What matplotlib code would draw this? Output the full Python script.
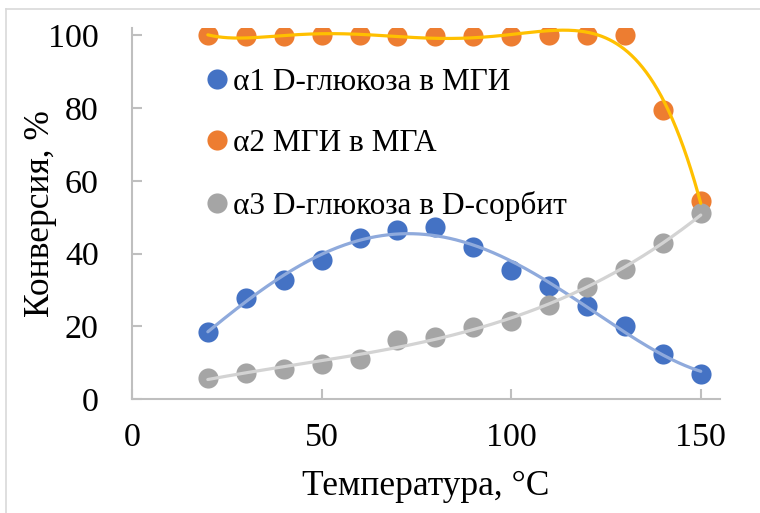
import numpy as np
import matplotlib
matplotlib.use("Agg")
import matplotlib.pyplot as plt
from matplotlib.lines import Line2D

# Temperature, °C
temperature = [20, 30, 40, 50, 60, 70, 80, 90, 100, 110, 120, 130, 140, 150]

# Conversion, %
alpha1 = [18.5, 27.9, 32.7, 38.3, 44.3, 46.6, 47.4, 41.8, 35.5, 31.1, 25.5, 20.1, 12.4, 7.0]
alpha2 = [100.0, 99.8, 99.9, 100.1, 100.0, 99.9, 99.8, 99.9, 99.9, 100.1, 100.0, 100.0, 79.6, 54.5]
alpha3 = [5.9, 7.3, 8.4, 9.7, 10.9, 16.2, 17.2, 19.9, 21.6, 25.9, 30.8, 35.7, 42.9, 51.1]

labels = ["\u03b11 D-глюкоза в МГИ", "\u03b12 МГИ в МГА", "\u03b13 D-глюкоза в D-сорбит"]
marker_colors = ["#4472C4", "#ED7D31", "#A5A5A5"]
trend_colors = ["#8FAADC", "#FFC000", "#D3D3D3"]
trend_orders = [4, 6, 3]

plt.rcParams["font.family"] = ["Liberation Serif", "DejaVu Serif"]

fig = plt.figure(figsize=(7.6, 5.13), dpi=100)
ax = fig.add_axes([0.1737, 0.222, 0.947 - 0.1737, 0.945 - 0.222])

x = np.array(temperature, dtype=float)
xs = np.linspace(x.min(), x.max(), 400)
series = [alpha1, alpha2, alpha3]

# markers
for ys, mc in zip(series, marker_colors):
    ax.plot(x, ys, "o", color=mc, markersize=14.5, markeredgewidth=0, zorder=2)

# polynomial trendlines fitted to each series
for ys, tc, order in zip(series, trend_colors, trend_orders):
    p = np.polynomial.Polynomial.fit(x, np.array(ys, dtype=float), order)
    ax.plot(xs, p(xs), "-", color=tc, linewidth=2.3, zorder=3, solid_capstyle="round")

ax.set_xlim(0, 155)
ax.set_ylim(0, 102)
ax.set_xticks([0, 50, 100, 150])
ax.set_yticks([0, 20, 40, 60, 80, 100])

for side in ("top", "right"):
    ax.spines[side].set_visible(False)
for side in ("left", "bottom"):
    ax.spines[side].set_color("#BFBFBF")
    ax.spines[side].set_linewidth(1.5)

ax.tick_params(axis="both", direction="in", length=7, width=1.5, color="#BFBFBF",
               labelsize=24.5, labelcolor="black")
ax.tick_params(axis="x", pad=17)
ax.tick_params(axis="y", pad=24)

ax.set_xlabel("Температура, °C", fontsize=25.5)
ax.set_ylabel("Конверсия, %", fontsize=25.5)
ax.xaxis.set_label_coords(0.5, -0.19)
ax.yaxis.set_label_coords(-0.128, 0.5)

handles = [Line2D([], [], marker="o", linestyle="none", color=c, markersize=14.5,
                  markeredgewidth=0) for c in marker_colors]
ax.legend(handles, labels, loc="upper left", bbox_to_anchor=(0.1233, 0.894),
          frameon=False, fontsize=22.5, handletextpad=0.1, handlelength=0.8,
          labelspacing=1.05, borderpad=0, borderaxespad=0)

# surrounding frame lines
fig.add_artist(Line2D([6 / 760, 6 / 760], [0, 1 - 9 / 513], transform=fig.transFigure,
                      color="#D9D9D9", linewidth=1.2))
fig.add_artist(Line2D([6 / 760, 1], [1 - 9 / 513, 1 - 9 / 513], transform=fig.transFigure,
                      color="#D9D9D9", linewidth=1.2))

fig.savefig("out.png", dpi=100)
